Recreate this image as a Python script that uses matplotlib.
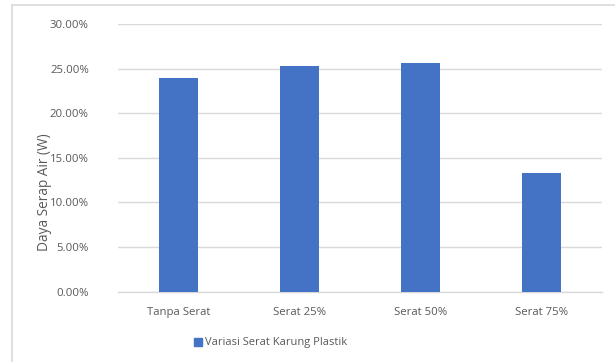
import numpy as np
import matplotlib.pyplot as plt
from matplotlib.ticker import FuncFormatter
from matplotlib.lines import Line2D
from matplotlib.patches import Patch

# Data daya serap air per variasi serat
kategori = ['Tanpa Serat', 'Serat 25%', 'Serat 50%', 'Serat 75%']
daya_serap = [0.2393, 0.2531, 0.2566, 0.1332]
nama_seri = 'Variasi Serat Karung Plastik'

BIRU = '#4472C4'
ABU_TEKS = '#595959'
ABU_GARIS = '#d9d9d9'

plt.rcParams['font.family'] = ['Open Sans', 'DejaVu Sans']

fig = plt.figure(figsize=(6.15, 3.62), dpi=100)
ax = fig.add_axes([118 / 615, 1 - 291.7 / 362, 484 / 615, (291.7 - 24) / 362])

x = np.arange(len(kategori))
ax.bar(x, daya_serap, width=0.32, color=BIRU, zorder=3)

ax.set_xlim(-0.5, len(kategori) - 0.5)
ax.set_ylim(0, 0.30)
ax.set_yticks(np.arange(0, 0.301, 0.05))
ax.yaxis.set_major_formatter(FuncFormatter(lambda v, _: f'{v * 100:.2f}%'))
ax.set_xticks(x)
ax.set_xticklabels(kategori)

ax.grid(axis='y', color=ABU_GARIS, lw=1.0, zorder=0)
for s in ['top', 'right', 'left']:
    ax.spines[s].set_visible(False)
ax.spines['bottom'].set_color(ABU_GARIS)
ax.spines['bottom'].set_linewidth(1.0)
ax.tick_params(axis='both', length=0, colors=ABU_TEKS, labelsize=8.2)
ax.tick_params(axis='y', pad=21)
ax.tick_params(axis='x', pad=11)

fig.text(44 / 615, 1 - 192.5 / 362, 'Daya Serap Air (W)', rotation=90,
         ha='center', va='center', color=ABU_TEKS, fontsize=9.8)

fig.legend(handles=[Patch(color=BIRU)], labels=[nama_seri],
           loc='center', bbox_to_anchor=(271 / 615, 1 - 343 / 362),
           frameon=False, fontsize=8, handlelength=0.7, handleheight=0.7,
           handletextpad=0.3, labelcolor=ABU_TEKS)

# bingkai area grafik
fig.add_artist(Line2D([11.5 / 615, 11.5 / 615], [0, 1 - 5 / 362],
                      color=ABU_GARIS, lw=1.2))
fig.add_artist(Line2D([11.5 / 615, 1], [1 - 5 / 362, 1 - 5 / 362],
                      color=ABU_GARIS, lw=1.2))

fig.savefig('out.png', dpi=100)
